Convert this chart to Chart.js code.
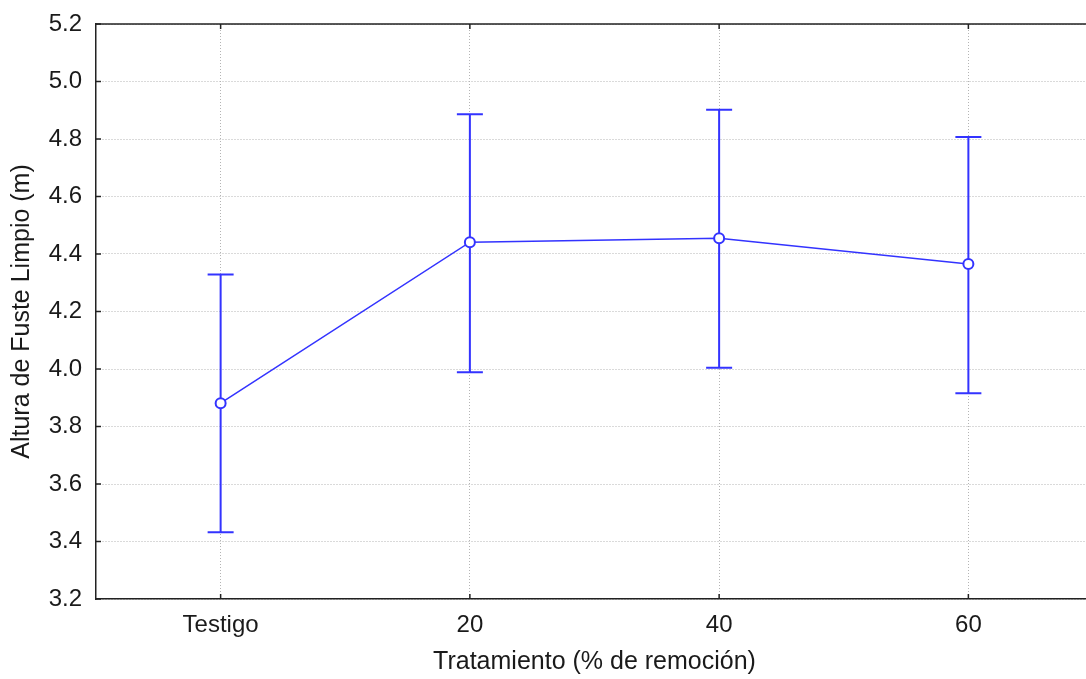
<!DOCTYPE html>
<html>
<head>
<meta charset="utf-8">
<script src="https://cdn.jsdelivr.net/npm/chart.js@4/dist/chart.umd.min.js"></script>
<style>
  html, body { margin: 0; padding: 0; background: #ffffff; overflow: hidden; }
  #chart { display: block; }
</style>
</head>
<body>
<canvas id="chart" width="1093" height="679"></canvas>
<script>
/* --------------- Data --------------------- */
const categories = ["Testigo", "20", "40", "60"];
const means = [3.881, 4.441, 4.455, 4.365];
const upper = [4.329, 4.886, 4.902, 4.807];
const lower = [3.432, 3.989, 4.004, 3.916];
const yTicks = [3.2, 3.4, 3.6, 3.8, 4.0, 4.2, 4.4, 4.6, 4.8, 5.0, 5.2];

const blue = "#3333ff";
const textColor = "#1a1a1a";
const gridColor = "#b4b4b4";

/* --------------- Error bars, frame and inner ticks --------------------- */
const errorBars = {
  id: "errorBars",
  beforeDatasetsDraw(chart) {
    const { ctx, scales: { x, y } } = chart;
    ctx.save();
    ctx.strokeStyle = blue;
    ctx.lineWidth = 2;
    categories.forEach((_, i) => {
      const px = x.getPixelForValue(i);
      const hi = y.getPixelForValue(upper[i]);
      const lo = y.getPixelForValue(lower[i]);
      ctx.beginPath();
      ctx.moveTo(px, hi);
      ctx.lineTo(px, lo);
      ctx.moveTo(px - 13, hi);
      ctx.lineTo(px + 13, hi);
      ctx.moveTo(px - 13, lo);
      ctx.lineTo(px + 13, lo);
      ctx.stroke();
    });
    ctx.restore();
  },
  afterDraw(chart) {
    const { ctx, chartArea: a, scales: { x, y } } = chart;
    ctx.save();
    ctx.strokeStyle = "#222222";
    ctx.lineWidth = 1.5;
    // top frame line
    ctx.beginPath();
    ctx.moveTo(a.left, a.top);
    ctx.lineTo(a.right + 2, a.top);
    ctx.stroke();
    // ticks pointing inside
    ctx.beginPath();
    yTicks.forEach((v) => {
      const py = y.getPixelForValue(v);
      ctx.moveTo(a.left, py);
      ctx.lineTo(a.left + 5, py);
    });
    categories.forEach((_, i) => {
      const px = x.getPixelForValue(i);
      ctx.moveTo(px, a.bottom);
      ctx.lineTo(px, a.bottom - 5);
      ctx.moveTo(px, a.top);
      ctx.lineTo(px, a.top + 5);
    });
    ctx.stroke();
    ctx.restore();
  },
};

/* --------------- Chart --------------------- */
const font = { family: "Arial, 'Liberation Sans', sans-serif", size: 24 };
const titleFont = { family: "Arial, 'Liberation Sans', sans-serif", size: 25 };

new Chart(document.getElementById("chart"), {
  type: "line",
  plugins: [errorBars],
  data: {
    labels: categories,
    datasets: [
      {
        data: means,
        borderColor: blue,
        borderWidth: 1.5,
        pointRadius: 5,
        pointBorderWidth: 2,
        pointBackgroundColor: "#ffffff",
        pointBorderColor: blue,
        tension: 0,
      },
    ],
  },
  options: {
    responsive: false,
    animation: false,
    // the plot frame runs past the right edge of the picture
    layout: { autoPadding: false, padding: { top: 24, right: 0, left: 0, bottom: 0 } },
    plugins: {
      legend: { display: false },
      tooltip: { enabled: false },
    },
    scales: {
      x: {
        type: "category",
        offset: true,
        afterFit: (scale) => {
          scale.height = 80;
          scale.paddingLeft = 0;
          scale.paddingRight = 0;
        },
        grid: {
          color: gridColor,
          lineWidth: 1,
          drawTicks: false,
        },
        border: { display: true, color: "#222222", width: 1.5, dash: [1, 2] },
        ticks: { color: textColor, font, padding: 12 },
        title: {
          display: true,
          text: "Tratamiento (% de remoción)",
          color: textColor,
          font: titleFont,
          padding: { top: 0, bottom: 2 },
        },
      },
      y: {
        min: 3.2,
        max: 5.2,
        afterFit: (scale) => {
          scale.width = 96;
          scale.paddingTop = 0;
          scale.paddingBottom = 0;
        },
        afterBuildTicks: (scale) => {
          scale.ticks = yTicks.map((v) => ({ value: v }));
        },
        grid: {
          color: gridColor,
          lineWidth: 1,
          drawTicks: false,
        },
        border: { display: true, color: "#222222", width: 1.5, dash: [1, 2] },
        ticks: {
          color: textColor,
          font,
          padding: 14,
          callback: (v) => Number(v).toFixed(1),
        },
        title: {
          display: true,
          text: "Altura de Fuste Limpio (m)",
          color: textColor,
          font: titleFont,
          padding: { top: 7, bottom: 0 },
        },
      },
    },
  },
});
</script>
</body>
</html>
